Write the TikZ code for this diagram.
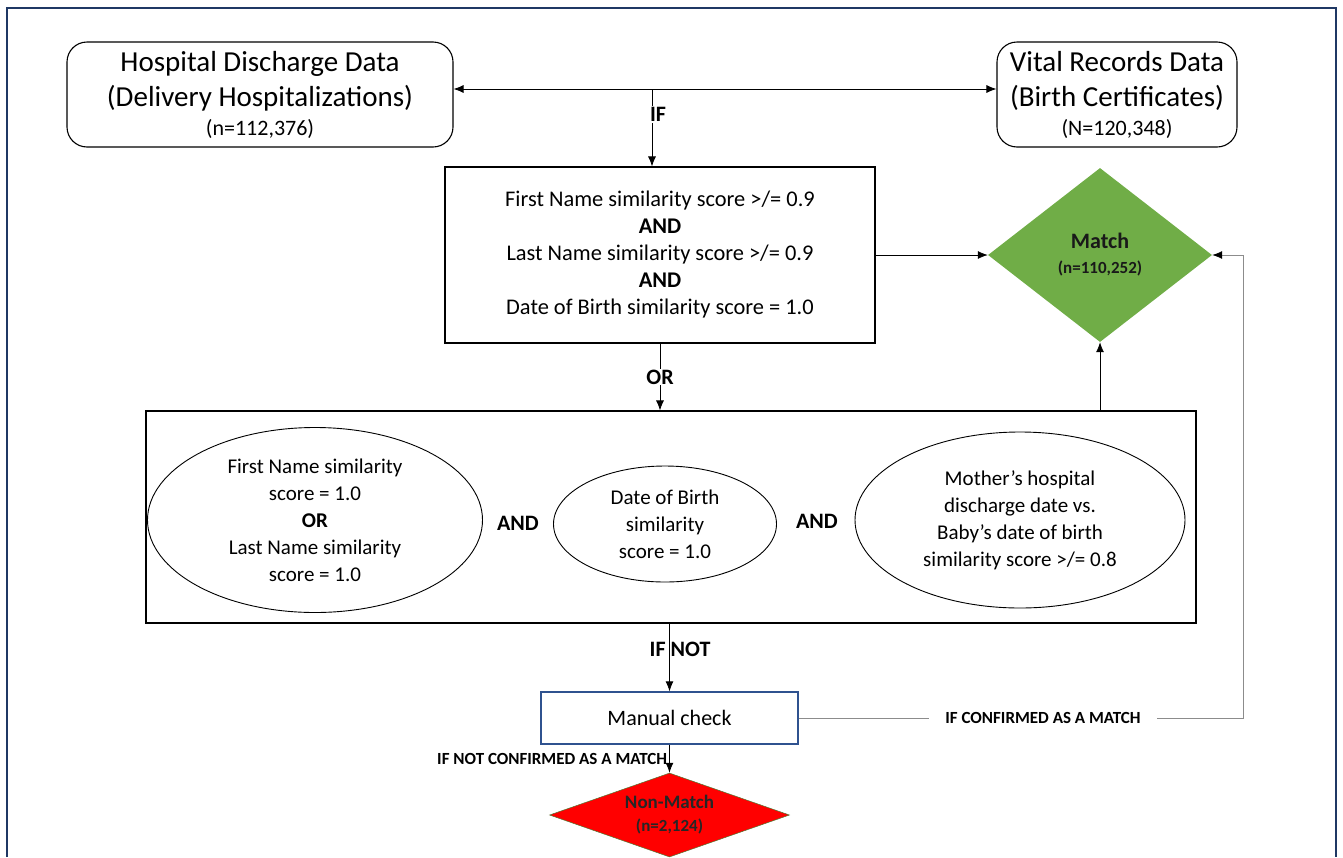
\documentclass[tikz,border=0pt]{standalone}
\usepackage{fontspec}
\setmainfont{Carlito}
\usetikzlibrary{shapes.geometric,arrows.meta}

\definecolor{framenavy}{HTML}{1F3864}
\definecolor{matchgreen}{HTML}{70AD47}
\definecolor{checkblue}{HTML}{2F528F}
\definecolor{linegray}{HTML}{8C8C8C}

\newcommand{\fsz}[2]{\fontsize{#1}{#2}\selectfont}

\begin{document}
\begin{tikzpicture}[x=1pt,y=-1pt,
    srcbox/.style={draw,rounded corners=20pt,line width=1.1pt,align=center,font=\fsz{29}{35},inner sep=0pt},
    rulebox/.style={draw,line width=1.1pt,align=center,font=\fsz{22.4}{27},inner sep=0pt},
    oval/.style={draw,ellipse,line width=0.9pt,align=center,font=\fsz{21}{27},inner sep=0pt},
    lbl/.style={font=\bfseries\fsz{22}{26},inner sep=1pt},
    smalllbl/.style={font=\bfseries\fsz{17}{20},inner sep=1pt},
    arr/.style={-{Latex[length=10pt,width=8pt]},line width=0.8pt},
    arrboth/.style={{Latex[length=10pt,width=8pt]}-{Latex[length=10pt,width=8pt]},line width=0.8pt},
    ]
    \useasboundingbox (0,0) rectangle (1343,857);
    \draw[framenavy,line width=1.6pt] (7,857) -- (7,8) -- (1336,8) -- (1336,857);

    \node[srcbox,minimum width=386pt,minimum height=105pt] (hosp) at (260,94.5)
        {Hospital Discharge Data\\(Delivery Hospitalizations)\\[-6pt]{\fsz{22}{26}(n=112,376)}};
    \node[srcbox,minimum width=240pt,minimum height=105pt] (vital) at (1117,94.5)
        {Vital Records Data\\(Birth Certificates)\\[-6pt]{\fsz{22}{26}(N=120,348)}};

    \node[rulebox,minimum width=430pt,minimum height=176pt] (rule1) at (660,255)
        {First Name similarity score >/= 0.9\\\textbf{AND}\\Last Name similarity score >/= 0.9\\\textbf{AND}\\Date of Birth similarity score = 1.0};

    \node[diamond,aspect=1.29,fill=matchgreen,minimum width=224pt,minimum height=174pt,inner sep=0pt,align=center,text=black!90,font=\bfseries\fsz{22}{25}] (match) at (1100,255)
        {Match\\{\fsz{17}{20}(n=110,252)}};

    \node[draw,line width=1.1pt,minimum width=1050pt,minimum height=212pt] (crit) at (671,517) {};
    \node[oval,minimum width=335pt,minimum height=185pt] (namecrit) at (315,520)
        {First Name similarity\\score = 1.0\\\textbf{OR}\\Last Name similarity\\score = 1.0};
    \node[lbl] (and1) at (518,523) {AND};
    \node[oval,minimum width=223pt,minimum height=116pt] (dobcrit) at (665,524)
        {Date of Birth\\similarity\\score = 1.0};
    \node[lbl] (and2) at (817,521) {AND};
    \node[oval,minimum width=330pt,minimum height=176pt] (dischcrit) at (1020,520)
        {Mother’s hospital\\discharge date vs.\\Baby’s date of birth\\similarity score >/= 0.8};

    \node[draw=checkblue,line width=1.3pt,minimum width=257pt,minimum height=52pt,font=\fsz{22}{26}] (manual) at (669.5,718) {Manual check};

    \node[diamond,aspect=2.86,fill=red,draw=matchgreen!70!black,line width=0.5pt,minimum width=240pt,minimum height=84pt,inner sep=0pt,align=center,text=black!85,font=\bfseries\fsz{19}{23}] (nonmatch) at (669.5,815)
        {Non-Match\\{\fsz{17}{20}(n=2,124)}};

    \coordinate (split) at (652,89);
    \coordinate (ret) at (1243,718);

    \draw[arrboth] (hosp.east |- split) -- (vital.west |- split);
    \draw[arr] (split) -- node[lbl,fill=white,pos=0.33,xshift=6pt] {IF} (split |- rule1.north);
    \draw[arr] (rule1.east) -- (match.west);
    \draw[arr] (rule1.south) -- node[lbl,fill=white] {OR} (rule1.south |- crit.north);
    \draw[arr] (match.south |- crit.north) -- (match.south);
    \draw[arr] (manual.north |- crit.south) -- node[lbl,pos=0.38,xshift=10.5pt] {IF NOT} (manual.north);
    \draw[arr] (manual.south) -- node[smalllbl,anchor=east,xshift=-1pt] {IF NOT CONFIRMED AS A MATCH} (nonmatch.north);
    \draw[line width=0.8pt,linegray,-{Latex[length=10pt,width=8pt,black]}] (manual.east)
        -- node[smalllbl,fill=white,inner xsep=16pt,pos=0.55,text=black] {IF CONFIRMED AS A MATCH} (ret) |- (match.east);
\end{tikzpicture}
\end{document}
